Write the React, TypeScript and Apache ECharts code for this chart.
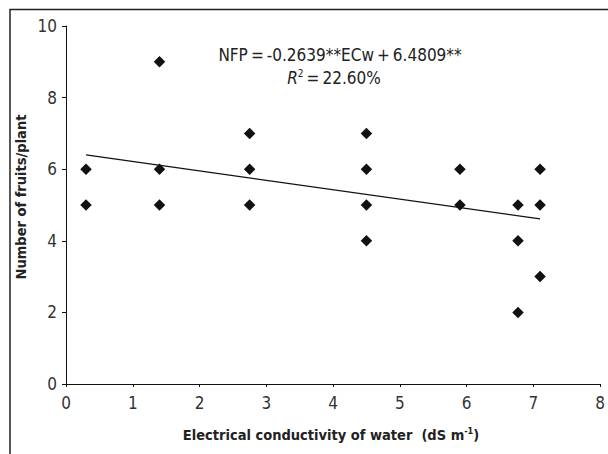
import React, { useEffect, useRef } from "react";
import * as echarts from "echarts";

const ecwValues = [0.3, 0.3, 1.4, 1.4, 1.4, 2.75, 2.75, 2.75, 4.5, 4.5, 4.5, 4.5, 5.9, 5.9, 6.77, 6.77, 6.77, 7.1, 7.1, 7.1];
const fruitValues = [6, 5, 9, 6, 5, 7, 6, 5, 7, 6, 5, 4, 6, 5, 5, 4, 2, 6, 5, 3];
const trendX = [0.3, 7.1];
const trendY = [6.4, 4.61];
const equationText = "NFP\u2009=\u2009-0.2639**ECw\u2009+\u20096.4809**";
const r2Value = "22.60%";
const xAxisTitle = "Electrical conductivity of water  (dS m";
const yAxisTitle = "Number of fruits/plant";

const FONT = "'Liberation Sans Narrow', 'DejaVu Sans Condensed', 'Roboto', sans-serif";

export default function App() {
  const ref = useRef<HTMLDivElement>(null);
  useEffect(() => {
    if (!ref.current) return;
    const chart = echarts.init(ref.current, undefined, { renderer: "svg" });
    const points = ecwValues.map((x, i) => [x, fruitValues[i]]);
    const trend = trendX.map((x, i) => [x, trendY[i]]);
    chart.setOption({
      animation: false,
      backgroundColor: "#fff",
      grid: { left: 66, right: 5, top: 26, bottom: 70, containLabel: false },
      xAxis: {
        type: "value",
        min: 0,
        max: 8,
        interval: 1,
        splitLine: { show: false },
        axisLine: { show: true, onZero: false, lineStyle: { color: "#111", width: 1 } },
        axisTick: { show: true, inside: false, length: 3, lineStyle: { color: "#111" } },
        axisLabel: { color: "#333", fontFamily: FONT, fontSize: 17, margin: 10 },
      },
      yAxis: {
        type: "value",
        min: 0,
        max: 10,
        interval: 2,
        splitLine: { show: false },
        axisLine: { show: true, onZero: false, lineStyle: { color: "#111", width: 1 } },
        axisTick: { show: true, inside: false, length: 4, lineStyle: { color: "#111" } },
        axisLabel: { color: "#333", fontFamily: FONT, fontSize: 17, margin: 9 },
      },
      graphic: [
        {
          type: "polyline",
          shape: { points: [[10, 454], [10, 9.5], [608, 9.5]] },
          style: { stroke: "#222", lineWidth: 1.5, fill: "none" },
          silent: true,
        },
        {
          type: "text",
          x: 340,
          y: 55,
          style: {
            text: equationText,
            fontFamily: FONT,
            fontSize: 17,
            fill: "#222",
            align: "center",
            verticalAlign: "middle",
          },
        },
        {
          type: "text",
          x: 334,
          y: 78,
          style: {
            text: "{it|R}{sup|2}{n|\u2009=\u2009" + r2Value + "}",
            align: "center",
            verticalAlign: "middle",
            rich: {
              it: { fontFamily: FONT, fontSize: 17, fontStyle: "italic", fill: "#222", lineHeight: 20 },
              sup: { fontFamily: FONT, fontSize: 10, fill: "#222", verticalAlign: "top", lineHeight: 10 },
              n: { fontFamily: FONT, fontSize: 17, fill: "#222", lineHeight: 20 },
            },
          },
        },
        {
          type: "text",
          x: 331,
          y: 435,
          style: {
            text: "{b|" + xAxisTitle + "}{sup|-1}{b|)}",
            align: "center",
            verticalAlign: "middle",
            rich: {
              b: { fontFamily: FONT, fontSize: 14.5, fontWeight: "bold", fill: "#222", lineHeight: 18 },
              sup: { fontFamily: FONT, fontSize: 9, fontWeight: "bold", fill: "#222", verticalAlign: "top", lineHeight: 9 },
            },
          },
        },
        {
          type: "text",
          x: 21,
          y: 197,
          rotation: Math.PI / 2,
          style: {
            text: yAxisTitle,
            fontFamily: FONT,
            fontSize: 14.5,
            fontWeight: "bold",
            fill: "#222",
            align: "center",
            verticalAlign: "middle",
          },
        },
      ],
      series: [
        {
          type: "line",
          data: trend,
          symbol: "none",
          lineStyle: { color: "#111", width: 1.2 },
          silent: true,
          z: 2,
        },
        {
          type: "scatter",
          data: points,
          symbol: "diamond",
          symbolSize: [11.5, 11.5],
          itemStyle: { color: "#111", opacity: 1 },
          z: 3,
        },
      ],
    });
    return () => chart.dispose();
  }, []);
  return <div ref={ref} style={{ width: 608, height: 454, position: "absolute", left: 0, top: 0 }} />;
}
